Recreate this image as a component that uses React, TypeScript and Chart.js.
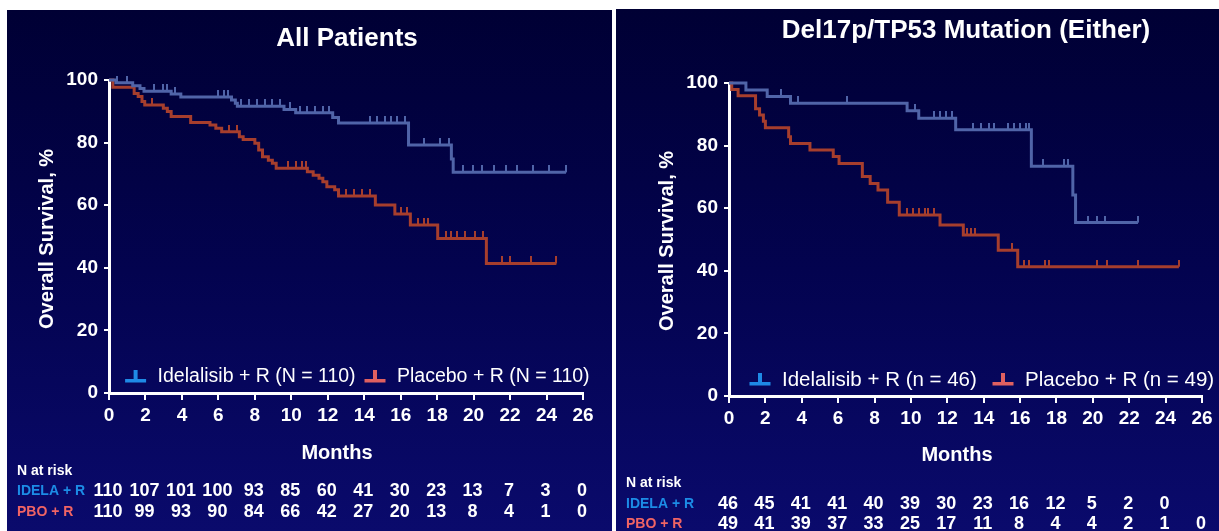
import { useEffect, useRef } from "react";
import { Chart, registerables } from "chart.js";

Chart.register(...registerables);

const FONT = "'Liberation Sans', Arial, Helvetica, sans-serif";

// Shared axes
const monthTicks = [0, 2, 4, 6, 8, 10, 12, 14, 16, 18, 20, 22, 24, 26];
const survivalTicks = [0, 20, 40, 60, 80, 100];

// ---- All Patients ----
const allIdelaTimes = [0, 0.38, 1.3, 1.7, 1.92, 3.41, 3.94, 6.72, 6.93, 7.04, 9.6, 10.24, 12.27, 12.59, 16.43, 18.78, 18.88, 25.07];
const allIdelaSurv = [100, 99.1, 98.2, 97.3, 96.4, 95.5, 94.6, 93.6, 92.6, 91.6, 90.6, 89.5, 88.0, 86.3, 79.2, 74.8, 70.5, 70.5];
const allIdelaCensor = [0.42, 0.96, 2.45, 2.98, 3.2, 3.6, 5.97, 6.29, 6.5, 7.25, 7.68, 8.1, 8.53, 8.96, 9.39, 9.92, 10.45, 10.88, 11.31, 11.73, 12.05, 14.3, 14.72, 15.15, 15.47, 15.79, 16.22, 17.28, 18.14, 18.67, 19.41, 19.95, 20.48, 21.12, 21.76, 22.4, 23.26, 24.11, 25.07];

const allPboTimes = [0, 0.21, 1.38, 1.6, 1.81, 1.96, 2.98, 3.2, 3.41, 4.48, 5.54, 5.86, 6.18, 7.15, 7.36, 8.0, 8.21, 8.42, 8.74, 8.96, 9.17, 10.88, 11.2, 11.52, 11.73, 11.95, 12.38, 12.59, 14.61, 15.68, 16.53, 18.03, 20.7, 24.54];
const allPboSurv = [100, 97.7, 95.7, 94.7, 93.1, 92.0, 91.0, 89.9, 88.3, 86.4, 85.6, 84.6, 83.5, 81.9, 81.0, 79.8, 77.6, 75.5, 74.4, 73.4, 71.8, 70.7, 69.6, 68.6, 67.5, 65.9, 64.9, 62.9, 60.1, 57.2, 53.7, 49.4, 41.4, 41.4];
const allPboCensor = [2.35, 6.6, 7.04, 9.81, 10.24, 10.56, 10.8, 13.0, 13.45, 13.88, 14.3, 16.0, 16.32, 16.96, 17.28, 17.5, 18.46, 18.78, 19.1, 19.53, 20.06, 20.49, 21.55, 21.98, 23.15, 24.54];

const allRiskIdela = [110, 107, 101, 100, 93, 85, 60, 41, 30, 23, 13, 7, 3, 0];
const allRiskPbo = [110, 99, 93, 90, 84, 66, 42, 27, 20, 13, 8, 4, 1, 0];

// ---- Del17p/TP53 mutation ----
const delIdelaTimes = [0, 0.93, 2.1, 3.38, 9.79, 10.43, 12.46, 16.62, 18.9, 19.05, 22.48];
const delIdelaSurv = [100, 97.8, 95.7, 93.5, 91.1, 88.7, 85.1, 73.4, 64.2, 55.4, 55.4];
const delIdelaCensor = [2.85, 3.77, 6.48, 10.21, 11.28, 11.6, 11.92, 12.24, 13.41, 13.84, 14.27, 14.59, 15.33, 15.65, 15.98, 16.3, 16.51, 17.26, 18.43, 18.64, 19.71, 20.24, 20.67, 22.48];

const delPboTimes = [0, 0.15, 0.5, 1.46, 1.68, 1.89, 2.0, 3.28, 3.38, 4.45, 5.73, 6.05, 7.33, 7.76, 8.19, 8.72, 9.36, 11.6, 12.88, 14.8, 15.87, 24.73];
const delPboSurv = [100, 97.9, 95.9, 91.8, 89.8, 87.8, 85.7, 82.8, 80.7, 78.6, 76.5, 74.3, 70.1, 67.9, 65.8, 61.9, 57.8, 54.6, 51.4, 46.6, 41.3, 41.3];
const delPboCensor = [9.79, 10.1, 10.43, 10.75, 10.96, 11.28, 13.09, 13.31, 13.52, 15.55, 16.19, 16.51, 17.36, 17.58, 20.24, 20.77, 22.48, 24.73];

const delRiskIdela = [46, 45, 41, 41, 40, 39, 30, 23, 16, 12, 5, 2, 0];
const delRiskPbo = [49, 41, 39, 37, 33, 25, 17, 11, 8, 4, 4, 2, 1, 0];

// Colours
const IDELA_LINE = "#5064a8";
const PBO_LINE = "#a63e2d";
const IDELA_KEY = "#1e8ae6";
const PBO_KEY = "#e06060";
const IDELA_TEXT = "#1c8ce6";
const PBO_TEXT = "#f06464";

type Arm = {
  label: string;
  times: number[];
  surv: number[];
  censor: number[];
  line: string;
  key: string;
  risk: number[];
  riskLabel: string;
  riskColor: string;
};

type Layout = {
  x: number;
  y: number;
  w: number;
  h: number;
  padTop: number;
  padRight: number;
  padBottom: number;
  yAxisWidth: number;
  xAxisHeight: number;
  titleX: number;
  titleY: number;
  yTitleX: number;
  yTitleY: number;
  monthsX: number;
  monthsY: number;
  legendY: number;
  legendX: number[];
  legendSize: number;
  riskLabelX: number;
  riskHeadY: number;
  riskRowY: number[];
};

function survivalAt(times: number[], surv: number[], t: number) {
  let s = surv[0];
  for (let i = 0; i < times.length; i++) {
    if (times[i] <= t) s = surv[i];
    else break;
  }
  return s;
}

// Censoring tick: a short upright stroke sitting on the curve
function censorMark(color: string) {
  const c = document.createElement("canvas");
  c.width = 2;
  c.height = 14;
  const g = c.getContext("2d")!;
  g.fillStyle = color;
  g.fillRect(0, 0, 2, 7);
  return c;
}

function KMPanel({ title, yTitle, arms, L }: { title: string; yTitle: string; arms: Arm[]; L: Layout }) {
  const ref = useRef<HTMLCanvasElement | null>(null);

  useEffect(() => {
    const canvas = ref.current;
    if (!canvas) return;

    const datasets: any[] = [];
    arms.forEach((a) => {
      datasets.push({
        type: "line",
        data: a.times.map((t, i) => ({ x: t, y: a.surv[i] })),
        stepped: "before",
        borderColor: a.line,
        borderWidth: 3,
        pointRadius: 0,
        fill: false,
        clip: false,
      });
    });
    arms.forEach((a) => {
      datasets.push({
        type: "scatter",
        data: a.censor.map((t) => ({ x: t, y: survivalAt(a.times, a.surv, t) })),
        pointStyle: censorMark(a.line),
        pointRadius: 4,
        borderWidth: 0,
        clip: false,
      });
    });

    const decor = {
      id: "kmDecor",
      afterDraw(chart: any) {
        const ctx: CanvasRenderingContext2D = chart.ctx;
        const xs = chart.scales.x;
        ctx.save();
        ctx.fillStyle = "#ffffff";
        ctx.textAlign = "center";
        ctx.textBaseline = "alphabetic";
        ctx.font = `bold 26px ${FONT}`;
        ctx.fillText(title, L.titleX, L.titleY);

        ctx.save();
        ctx.translate(L.yTitleX, L.yTitleY);
        ctx.rotate(-Math.PI / 2);
        ctx.textBaseline = "middle";
        ctx.font = `bold 20px ${FONT}`;
        ctx.fillText(yTitle, 0, 0);
        ctx.restore();

        ctx.textBaseline = "middle";
        ctx.font = `bold 20px ${FONT}`;
        ctx.fillText("Months", L.monthsX, L.monthsY);

        // legend keys
        ctx.textAlign = "left";
        ctx.font = `${L.legendSize}px ${FONT}`;
        arms.forEach((a, i) => {
          const cx = L.legendX[i];
          const cy = L.legendY;
          ctx.fillStyle = a.key;
          ctx.fillRect(cx - 10.5, cy + 3, 21, 3.5);
          ctx.fillRect(cx - 2, cy - 6, 4, 9);
          ctx.fillStyle = "#ffffff";
          ctx.fillText(a.label, cx + 22, cy + 1);
        });

        // number at risk table
        ctx.font = `bold 14px ${FONT}`;
        ctx.fillStyle = "#ffffff";
        ctx.fillText("N at risk", L.riskLabelX, L.riskHeadY);
        arms.forEach((a, i) => {
          const ry = L.riskRowY[i];
          ctx.textAlign = "left";
          ctx.font = `bold 14px ${FONT}`;
          ctx.fillStyle = a.riskColor;
          ctx.fillText(a.riskLabel, L.riskLabelX, ry);
          ctx.textAlign = "center";
          ctx.font = `bold 18px ${FONT}`;
          ctx.fillStyle = "#ffffff";
          a.risk.forEach((n, k) => {
            ctx.fillText(String(n), xs.getPixelForValue(monthTicks[k]) - 1, ry);
          });
        });
        ctx.restore();
      },
    };

    const tickFont = { family: FONT, size: 19, weight: "bold" as const };

    const chart = new Chart(canvas, {
      type: "line",
      data: { datasets },
      options: {
        animation: false,
        responsive: false,
        events: [],
        layout: { padding: { left: 0, top: L.padTop, right: L.padRight, bottom: L.padBottom } },
        plugins: { legend: { display: false }, tooltip: { enabled: false } },
        scales: {
          x: {
            type: "linear",
            min: 0,
            max: 26,
            afterBuildTicks: (s: any) => {
              s.ticks = monthTicks.map((v) => ({ value: v }));
            },
            afterFit: (s: any) => {
              s.height = L.xAxisHeight;
            },
            ticks: { color: "#ffffff", font: tickFont, padding: 4, maxRotation: 0, autoSkip: false },
            grid: { display: true, drawOnChartArea: false, drawTicks: true, tickLength: 7, color: "#ffffff", lineWidth: 2 },
            border: { display: true, color: "#ffffff", width: 3 },
          },
          y: {
            type: "linear",
            min: 0,
            max: 100,
            afterBuildTicks: (s: any) => {
              s.ticks = survivalTicks.map((v) => ({ value: v }));
            },
            afterFit: (s: any) => {
              s.width = L.yAxisWidth;
            },
            ticks: { color: "#ffffff", font: tickFont, padding: 6 },
            grid: { display: true, drawOnChartArea: false, drawTicks: true, tickLength: 5, color: "#ffffff", lineWidth: 2 },
            border: { display: true, color: "#ffffff", width: 3 },
          },
        },
      },
      plugins: [decor],
    } as any);

    return () => chart.destroy();
  }, []);

  return (
    <div
      style={{
        position: "absolute",
        left: L.x,
        top: L.y,
        width: L.w,
        height: L.h,
        background: "linear-gradient(180deg, #000034 0%, #03034f 50%, #0a0a6c 100%)",
        overflow: "hidden",
      }}
    >
      <canvas ref={ref} width={L.w} height={L.h} style={{ display: "block" }} />
    </div>
  );
}

const allArms: Arm[] = [
  {
    label: "Idelalisib + R (N = 110)",
    times: allIdelaTimes,
    surv: allIdelaSurv,
    censor: allIdelaCensor,
    line: IDELA_LINE,
    key: IDELA_KEY,
    risk: allRiskIdela,
    riskLabel: "IDELA + R",
    riskColor: IDELA_TEXT,
  },
  {
    label: "Placebo + R (N = 110)",
    times: allPboTimes,
    surv: allPboSurv,
    censor: allPboCensor,
    line: PBO_LINE,
    key: PBO_KEY,
    risk: allRiskPbo,
    riskLabel: "PBO + R",
    riskColor: PBO_TEXT,
  },
];

const delArms: Arm[] = [
  {
    label: "Idelalisib + R (n = 46)",
    times: delIdelaTimes,
    surv: delIdelaSurv,
    censor: delIdelaCensor,
    line: IDELA_LINE,
    key: IDELA_KEY,
    risk: delRiskIdela,
    riskLabel: "IDELA + R",
    riskColor: IDELA_TEXT,
  },
  {
    label: "Placebo + R (n = 49)",
    times: delPboTimes,
    surv: delPboSurv,
    censor: delPboCensor,
    line: PBO_LINE,
    key: PBO_KEY,
    risk: delRiskPbo,
    riskLabel: "PBO + R",
    riskColor: PBO_TEXT,
  },
];

const leftLayout: Layout = {
  x: 7,
  y: 10,
  w: 605,
  h: 521,
  padTop: 70,
  padRight: 29,
  padBottom: 108,
  yAxisWidth: 102,
  xAxisHeight: 30,
  titleX: 340,
  titleY: 36,
  yTitleX: 40,
  yTitleY: 229,
  monthsX: 330,
  monthsY: 443,
  legendY: 366,
  legendX: [128.6, 368],
  legendSize: 19.5,
  riskLabelX: 10,
  riskHeadY: 461,
  riskRowY: [481, 502],
};

const rightLayout: Layout = {
  x: 616,
  y: 9,
  w: 603,
  h: 522,
  padTop: 74,
  padRight: 17,
  padBottom: 105,
  yAxisWidth: 113,
  xAxisHeight: 30,
  titleX: 350,
  titleY: 29,
  yTitleX: 51,
  yTitleY: 232,
  monthsX: 341,
  monthsY: 446,
  legendY: 370,
  legendX: [144, 387],
  legendSize: 20.5,
  riskLabelX: 10,
  riskHeadY: 474,
  riskRowY: [495, 515],
};

export default function App() {
  return (
    <div style={{ position: "absolute", left: 0, top: 0, width: 1219, height: 531, background: "#ffffff", overflow: "hidden" }}>
      <KMPanel title="All Patients" yTitle="Overall Survival, %" arms={allArms} L={leftLayout} />
      <KMPanel title="Del17p/TP53 Mutation (Either)" yTitle="Overall Survival, %" arms={delArms} L={rightLayout} />
    </div>
  );
}
